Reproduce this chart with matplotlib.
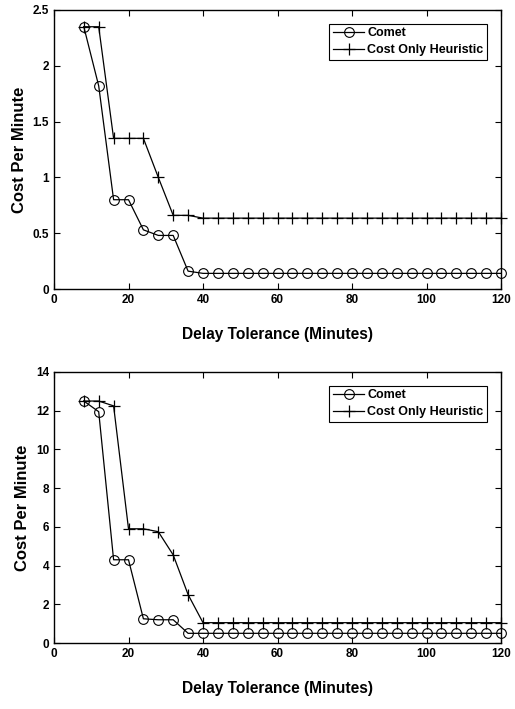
import numpy as np
import matplotlib.pyplot as plt

plt.rcParams['font.family'] = ['Liberation Sans', 'DejaVu Sans']
plt.rcParams['font.weight'] = 'bold'

delay = np.arange(8, 121, 4)

comet_top = [2.35, 1.82, 0.80, 0.80, 0.53, 0.48, 0.48, 0.16] + [0.14] * 21
heur_top = [2.35, 2.35, 1.35, 1.35, 1.35, 1.0, 0.66, 0.66] + [0.635] * 21

comet_bot = [12.5, 11.95, 4.3, 4.3, 1.25, 1.2, 1.2, 0.5] + [0.5] * 21
heur_bot = [12.5, 12.5, 12.25, 5.9, 5.9, 5.75, 4.55, 2.5] + [1.05] * 21

fig = plt.figure(figsize=(5.15, 7.09), dpi=100)
ax1 = fig.add_axes([54 / 515, 1 - 289 / 709, 447 / 515, 279 / 709])
ax2 = fig.add_axes([54 / 515, 1 - 643 / 709, 447 / 515, 271 / 709])


def draw(ax, comet, heur, ymax, yticks):
    ax.plot(delay, comet, color='black', lw=0.9, marker='o', ms=7,
            mfc='none', mec='black', mew=0.8, label='Comet', clip_on=False)
    ax.plot(delay, heur, color='black', lw=0.9, marker='+', ms=8,
            mew=0.9, label='Cost Only Heuristic', clip_on=False)
    ax.set_xlim(0, 120)
    ax.set_ylim(0, ymax)
    ax.set_xticks(np.arange(0, 121, 20))
    ax.set_yticks(yticks)
    ax.tick_params(direction='in', top=True, right=True, labelsize=8.5,
                   length=4, width=0.8)
    for lab in ax.get_xticklabels() + ax.get_yticklabels():
        lab.set_fontweight('bold')
    for s in ax.spines.values():
        s.set_linewidth(1.0)
    ax.set_xlabel('Delay Tolerance (Minutes)', fontsize=11.2,
                  fontweight='bold', labelpad=15)
    ax.set_ylabel('Cost Per Minute', fontsize=12, fontweight='bold',
                  labelpad=4)
    leg = ax.legend(loc='upper right', fontsize=9, fancybox=False,
                    edgecolor='black', framealpha=1, handlelength=2.5,
                    borderaxespad=1.1, borderpad=0.3, labelspacing=0.4,
                    handletextpad=0.25)
    leg.get_frame().set_linewidth(0.8)
    for t in leg.get_texts():
        t.set_fontweight('bold')


draw(ax1, comet_top, heur_top, 2.5, [0, 0.5, 1, 1.5, 2, 2.5])
ax1.set_yticklabels(['0', '0.5', '1', '1.5', '2', '2.5'])
draw(ax2, comet_bot, heur_bot, 14, np.arange(0, 15, 2))

fig.savefig('out.png', dpi=100)
